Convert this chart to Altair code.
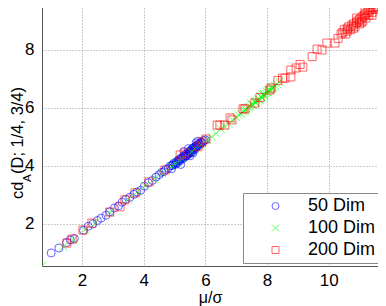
import altair as alt
import pandas as pd

# 50 Dim (blue circles)
bx = [1.0, 1.25, 1.5, 1.62, 1.75, 2.05, 2.2, 2.35, 2.5, 2.62, 2.78, 2.9, 3.05, 3.18, 3.3, 3.42,
      3.55, 3.68, 3.78, 3.9, 4.02, 4.15, 4.28, 4.4, 4.5, 4.58, 4.65, 4.72, 4.8, 4.86, 4.92, 4.98,
      5.02, 5.06, 5.1, 5.14, 5.18, 5.22, 5.26, 5.3, 5.33, 5.36, 5.4, 5.43, 5.46, 5.5, 5.52, 5.55,
      5.58, 5.6, 5.63, 5.66, 5.69, 5.72, 5.75, 5.78, 5.82, 5.86, 5.9, 5.95, 6.0, 5.05, 5.2, 5.35,
      5.48, 5.62, 5.74, 4.95, 5.12, 5.28, 5.44, 5.57, 5.7, 5.84,
      5.3, 5.5, 5.7, 5.45, 5.2, 5.6, 4.9, 5.75]
by = [1.0, 1.17, 1.36, 1.45, 1.5, 1.78, 1.92, 2.0, 2.12, 2.2, 2.3, 2.42, 2.55, 2.62, 2.75, 2.85,
      2.92, 3.02, 3.1, 3.16, 3.3, 3.42, 3.5, 3.62, 3.7, 3.78, 3.8, 3.88, 3.92, 4.0, 4.02, 4.1,
      4.05, 4.15, 4.12, 4.22, 4.18, 4.28, 4.25, 4.35, 4.3, 4.4, 4.36, 4.45, 4.42, 4.52, 4.46, 4.56,
      4.5, 4.62, 4.58, 4.66, 4.62, 4.7, 4.68, 4.76, 4.74, 4.82, 4.8, 4.88, 4.9, 4.08, 4.24, 4.34,
      4.48, 4.55, 4.73, 4.05, 4.18, 4.32, 4.4, 4.6, 4.66, 4.78,
      4.5, 4.35, 4.8, 4.6, 4.05, 4.45, 3.9, 4.85]

# 100 Dim (green crosses)
gx = [0.72, 1.4, 1.72, 2.1, 2.45, 2.9, 3.5, 3.8, 4.05, 4.35, 4.6, 4.9, 5.05, 5.25, 5.55, 5.65,
      5.85, 6.05, 6.2, 6.35, 6.5, 6.62, 6.75, 6.88, 7.0, 7.08, 7.15, 7.22, 7.28, 7.34, 7.4, 7.45,
      7.5, 7.55, 7.6, 7.64, 7.68, 7.72, 7.76, 7.8, 7.84, 7.88, 7.92, 7.96, 8.0, 8.04, 8.08, 8.12,
      8.16, 8.2, 8.26, 8.32, 8.4, 7.3, 7.48, 7.62, 7.78, 7.9, 8.02, 8.14]
gy = [0.57, 1.22, 1.45, 1.8, 2.05, 2.4, 2.85, 3.12, 3.32, 3.55, 3.75, 3.98, 4.1, 4.25, 4.48, 4.6,
      4.72, 4.9, 5.0, 5.12, 5.28, 5.38, 5.45, 5.58, 5.68, 5.75, 5.8, 5.88, 5.9, 5.98, 6.02, 6.05,
      6.12, 6.1, 6.2, 6.18, 6.25, 6.3, 6.28, 6.38, 6.35, 6.45, 6.42, 6.5, 6.55, 6.52, 6.62, 6.6,
      6.68, 6.72, 6.76, 6.82, 6.9, 5.95, 6.15, 6.22, 6.4, 6.48, 6.62, 6.7]

# 200 Dim (red squares)
rx = [1.51, 1.68, 2.03, 2.32, 2.9, 3.23, 3.39, 3.72, 4.17, 4.69, 5.18, 5.34, 5.76, 5.89, 6.02,
      6.38, 6.47, 6.63, 6.8, 6.86, 7.22, 7.28, 7.6, 7.77, 8.09, 8.13, 8.35, 8.5, 8.58, 8.77, 8.77,
      8.94, 9.07, 9.16, 9.46, 9.62, 9.78, 9.94, 10.2, 10.3, 10.4,
      10.45, 10.5, 10.55, 10.6, 10.65, 10.7, 10.75, 10.8, 10.85, 10.9, 10.95, 11.0, 11.0, 11.05,
      11.1, 11.1, 11.15, 11.2, 11.2, 11.25, 11.3, 11.3, 11.35, 11.4, 11.45, 11.5, 11.55, 11.58,
      10.6, 10.8, 11.05, 11.4, 10.9, 11.17]
ry = [1.34, 1.48, 1.79, 2.03, 2.41, 2.59, 2.83, 3.07, 3.45, 3.86, 4.38, 4.45, 4.66, 4.83, 4.93,
      5.41, 5.41, 5.41, 5.66, 5.59, 5.97, 5.97, 6.17, 6.36, 6.62, 6.69, 6.95, 7.03, 7.03, 7.07, 7.31,
      7.38, 7.5, 7.41, 7.77, 8.03, 8.0, 8.24, 8.24, 8.4, 8.55,
      8.6, 8.7, 8.55, 8.75, 8.8, 8.7, 8.85, 8.9, 8.8, 8.95, 9.0, 8.9, 9.05, 9.1,
      9.0, 9.15, 9.2, 9.1, 9.25, 9.3, 9.2, 9.35, 9.4, 9.3, 9.45, 9.4, 9.5, 9.45,
      8.65, 8.75, 8.95, 9.2, 9.1, 9.38]

series = ["50 Dim", "100 Dim", "200 Dim"]
colors = ["#0000ff", "#00ff00", "#ff0000"]
shapes = ["circle", "M-1,-1L1,1M1,-1L-1,1", "square"]

rows = []
for name, xs, ys in zip(series, [bx, gx, rx], [by, gy, ry]):
    for i, (a, b) in enumerate(zip(xs, ys)):
        rows.append({"s": name, "x": a, "y": b, "o": len(rows)})
df = pd.DataFrame(rows)

FONT = "Liberation Sans"

points = alt.Chart(df).mark_point(filled=False, size=64, strokeWidth=1, opacity=0.6, clip=True).encode(
    x=alt.X("x:Q", scale=alt.Scale(domain=[0.703, 11.595], nice=False, zero=False),
            axis=alt.Axis(values=[2, 4, 6, 8, 10], title="μ/σ", titlePadding=1,
                          titleFontSize=16, labelPadding=6)),
    y=alt.Y("y:Q", scale=alt.Scale(domain=[0.55, 9.655], nice=False, zero=False),
            axis=alt.Axis(values=[2, 4, 6, 8], title="", labelPadding=8)),
    color=alt.Color("s:N", scale=alt.Scale(domain=series, range=colors),
                    legend=alt.Legend(orient="none", legendX=201, legendY=191,
                                      title=" ", titleOrient="right", titleFontSize=1,
                                      titlePadding=9, padding=4, symbolOffset=19.5,
                                      labelOffset=23.5, rowPadding=4,
                                      labelFontSize=18, labelFont=FONT, labelColor="black",
                                      fillColor="white", strokeColor="#888888",
                                      symbolSize=49, symbolStrokeWidth=1, symbolOpacity=0.6,
                                      symbolFillColor="transparent")),
    shape=alt.Shape("s:N", scale=alt.Scale(domain=series, range=shapes)),
    order=alt.Order("o:Q"),
)

def ttext(label, size, px, py):
    return alt.Chart(pd.DataFrame({"t": [label]})).mark_text(
        angle=270, align="left", baseline="alphabetic", font=FONT, fontSize=size, color="black"
    ).encode(text="t:N", x=alt.value(px), y=alt.value(py))

t1 = ttext("cd", 16.5, -19.5, 197)
t2 = ttext("A", 11.5, -11.5, 180)
t3 = ttext("(D; 1/4, 3/4)", 16.5, -19.5, 172)

chart = alt.layer(points, t1, t2, t3).properties(
    width=336, height=264,
    autosize=alt.AutoSizeParams(type="none"),
    padding={"left": 34, "top": -6, "right": 0, "bottom": 42},
).configure_view(strokeWidth=0).configure_axis(
    labelFont=FONT, labelFontSize=17, labelColor="black",
    titleFont=FONT, titleFontSize=17, titleFontWeight="normal", titleColor="black",
    grid=True, gridDash=[1, 2], gridColor="#999999", gridOpacity=1,
    domainColor="#555555", ticks=False,
)

chart.save("out.html", embed_options={"renderer": "svg", "actions": False})
